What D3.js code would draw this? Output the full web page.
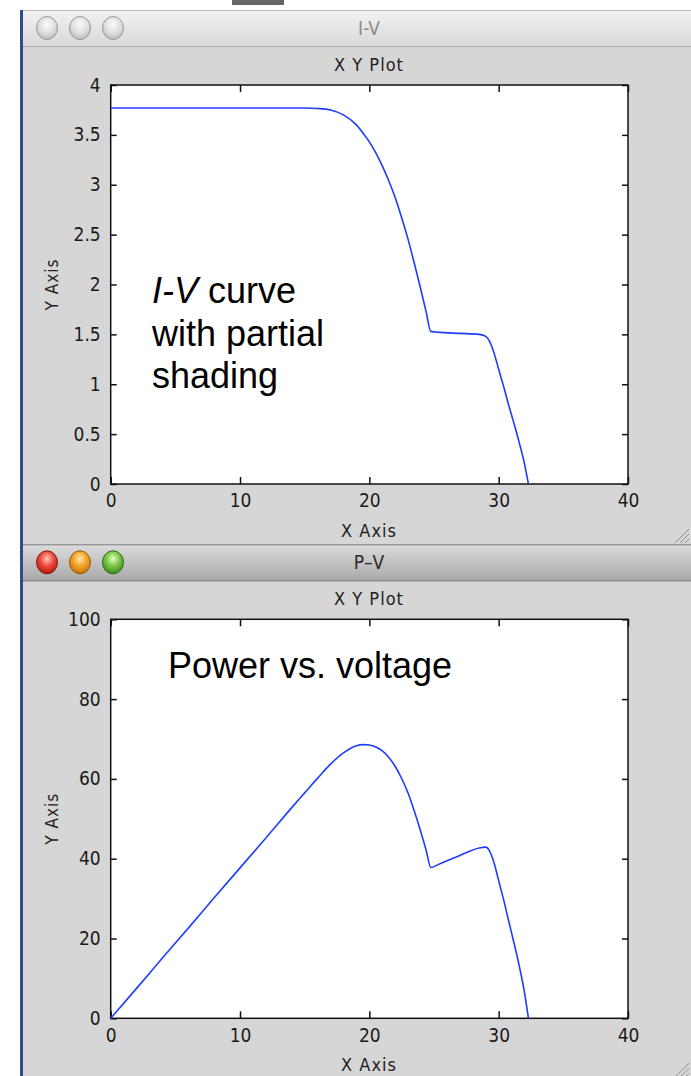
<!DOCTYPE html>
<html>
<head>
<meta charset="utf-8">
<script src="https://cdn.jsdelivr.net/npm/d3@7"></script>
<style>
  body { margin: 0; background: #fff; }
  svg { display: block; }
</style>
</head>
<body>
<script>
// page size
const width = 691, height = 1076;

// voltage samples (x) shared by both curves
const voltage = [0, 2, 4, 6, 8, 10, 12, 14, 15, 16, 17, 18, 19, 19.5, 20, 20.5, 21, 21.5, 22, 22.5,
  23, 23.5, 24, 24.4, 24.75, 25.5, 27, 28.5, 29, 29.3, 29.6, 30, 30.4, 30.8, 31.2, 31.6, 32, 32.3];
// current
const current = [3.77, 3.77, 3.77, 3.77, 3.77, 3.77, 3.77, 3.77, 3.77, 3.765, 3.75, 3.70, 3.60, 3.52, 3.43, 3.32,
  3.19, 3.04, 2.87, 2.67, 2.45, 2.20, 1.94, 1.72, 1.53, 1.52, 1.51, 1.50, 1.48, 1.43, 1.33, 1.15, 0.97, 0.78,
  0.60, 0.41, 0.20, 0];
// power
const power = [0, 7.5, 15.1, 22.6, 30.2, 37.7, 45.2, 52.8, 56.5, 60.2, 63.7, 66.5, 68.3, 68.6, 68.5, 68.0,
  67.0, 65.4, 63.1, 60.1, 56.4, 51.7, 46.5, 42.0, 37.8, 38.8, 40.8, 42.7, 42.9, 41.9, 39.4, 34.5, 29.5, 24.0,
  18.7, 13.0, 6.4, 0];

// axis ticks
const xTicks = [0, 10, 20, 30, 40];
const ivTicks = [0, 0.5, 1, 1.5, 2, 2.5, 3, 3.5, 4];
const pvTicks = [0, 20, 40, 60, 80, 100];

const svg = d3.select("body").append("svg")
  .attr("width", width)
  .attr("height", height);

const defs = svg.append("defs");

function linGrad(id, stops) {
  const g = defs.append("linearGradient").attr("id", id)
    .attr("x1", 0).attr("y1", 0).attr("x2", 0).attr("y2", 1);
  stops.forEach(s => g.append("stop").attr("offset", s[0]).attr("stop-color", s[1]));
}
function radGrad(id, stops) {
  const g = defs.append("radialGradient").attr("id", id)
    .attr("cx", "50%").attr("cy", "35%").attr("r", "65%");
  stops.forEach(s => g.append("stop").attr("offset", s[0]).attr("stop-color", s[1]));
}

linGrad("barInactive", [[0, "#f2f2f2"], [1, "#d9d9d9"]]);
linGrad("barActive", [[0, "#dcdcdc"], [1, "#a9a9a9"]]);
radGrad("btnGray", [[0, "#fbfbfb"], [0.6, "#dedede"], [1, "#b9b9b9"]]);
radGrad("btnRed", [[0, "#ffc8c0"], [0.5, "#ec4a3c"], [1, "#b01810"]]);
radGrad("btnOrange", [[0, "#ffe7b0"], [0.5, "#f2a52a"], [1, "#c0700a"]]);
radGrad("btnGreen", [[0, "#e0ffc0"], [0.5, "#7cc546"], [1, "#3a8a1a"]]);

// dark edge of the desktop behind the windows
svg.append("rect").attr("x", 20).attr("y", 10).attr("width", 3).attr("height", height - 10).attr("fill", "#2d4f86");
svg.append("rect").attr("x", 232).attr("y", 0).attr("width", 52).attr("height", 5).attr("fill", "#666");

// plot area placement (same in both windows)
const plotLeft = 110.7, plotRight = 628, plotH = 399;
const tickFont = "'DejaVu Sans Condensed', 'DejaVu Sans', sans-serif";

function drawWindow(top, title, active, yMax, yTicks, yValues, note) {
  const g = svg.append("g");

  // window body
  g.append("rect").attr("x", 23).attr("y", top).attr("width", width - 23).attr("height", height - top)
    .attr("fill", "#d6d6d6");
  // title bar
  g.append("rect").attr("x", 23).attr("y", top).attr("width", width - 23).attr("height", 36)
    .attr("fill", active ? "url(#barActive)" : "url(#barInactive)");
  g.append("line").attr("x1", 23).attr("x2", width).attr("y1", top + 0.5).attr("y2", top + 0.5)
    .attr("stroke", active ? "#7d7d7d" : "#bdbdbd");
  g.append("line").attr("x1", 23).attr("x2", width).attr("y1", top + 36.5).attr("y2", top + 36.5)
    .attr("stroke", active ? "#6e6e6e" : "#a8a8a8");

  const btnFills = active ? ["url(#btnRed)", "url(#btnOrange)", "url(#btnGreen)"]
    : ["url(#btnGray)", "url(#btnGray)", "url(#btnGray)"];
  const btnStroke = active ? ["#8a1a12", "#9a5a08", "#2e6e14"] : ["#9a9a9a", "#9a9a9a", "#9a9a9a"];
  [47, 80, 113].forEach((cx, i) => {
    g.append("ellipse").attr("cx", cx).attr("cy", top + 18).attr("rx", 10.5).attr("ry", 11.5)
      .attr("fill", btnFills[i]).attr("stroke", btnStroke[i]).attr("stroke-width", 1);
  });

  g.append("text").attr("x", 369).attr("y", top + 25)
    .attr("text-anchor", "middle")
    .style("font-family", tickFont).style("font-size", "19px")
    .attr("fill", active ? "#2a2a2a" : "#8c8c8c")
    .text(title);

  const plotTop = top + 75, plotBottom = plotTop + plotH;

  const x = d3.scaleLinear().domain([0, 40]).range([plotLeft, plotRight]);
  const y = d3.scaleLinear().domain([0, yMax]).range([plotBottom, plotTop]);

  // header and axis titles
  g.append("text").attr("x", 369).attr("y", top + 61)
    .attr("text-anchor", "middle")
    .style("font-family", tickFont).style("font-size", "18px").style("letter-spacing", "1px")
    .attr("fill", "#222").text("X Y Plot");
  g.append("text").attr("x", 369).attr("y", plotBottom + 53)
    .attr("text-anchor", "middle")
    .style("font-family", tickFont).style("font-size", "18px").style("letter-spacing", "1px")
    .attr("fill", "#222").text("X Axis");
  g.append("text")
    .attr("transform", `translate(58,${(plotTop + plotBottom) / 2}) rotate(-90)`)
    .attr("text-anchor", "middle")
    .style("font-family", tickFont).style("font-size", "17px").style("letter-spacing", "1px")
    .attr("fill", "#222").text("Y Axis");

  // white canvas
  g.append("rect").attr("x", plotLeft).attr("y", plotTop)
    .attr("width", plotRight - plotLeft).attr("height", plotH)
    .attr("fill", "#fff");

  // axes with inward ticks
  const styleAxis = sel => {
    sel.select(".domain").remove();
    sel.selectAll("line").attr("stroke", "#111").attr("stroke-width", 1.5);
    sel.selectAll("text").style("font-family", tickFont).style("font-size", "19px").attr("fill", "#1a1a1a");
  };
  g.append("g").attr("transform", `translate(0,${plotBottom})`)
    .call(d3.axisBottom(x).tickValues(xTicks).tickSizeInner(-7).tickSizeOuter(0).tickPadding(10)
      .tickFormat(d3.format("d")))
    .call(styleAxis);
  g.append("g").attr("transform", `translate(0,${plotTop})`)
    .call(d3.axisTop(x).tickValues(xTicks).tickSizeInner(-7).tickSizeOuter(0).tickFormat(""))
    .call(styleAxis);
  g.append("g").attr("transform", `translate(${plotLeft},0)`)
    .call(d3.axisLeft(y).tickValues(yTicks).tickSizeInner(-6).tickSizeOuter(0).tickPadding(10)
      .tickFormat(d => String(d)))
    .call(styleAxis);
  g.append("g").attr("transform", `translate(${plotRight},0)`)
    .call(d3.axisRight(y).tickValues(yTicks).tickSizeInner(-6).tickSizeOuter(0).tickFormat(""))
    .call(styleAxis);

  // frame
  g.append("rect").attr("x", plotLeft).attr("y", plotTop)
    .attr("width", plotRight - plotLeft).attr("height", plotH)
    .attr("fill", "none").attr("stroke", "#111").attr("stroke-width", 1.5);

  // the curve
  const line = d3.line().x((d, i) => x(voltage[i])).y(d => y(d)).curve(d3.curveMonotoneX);
  g.append("path").datum(yValues)
    .attr("d", line)
    .attr("fill", "none")
    .attr("stroke", "#1f3dff")
    .attr("stroke-width", 1.6);

  // annotation text
  note(g, plotTop);

  // resize grip
  const gx = width - 2, gy = plotBottom + 59;
  [4, 9, 14].forEach(s => {
    g.append("line").attr("x1", gx - s).attr("y1", gy).attr("x2", gx).attr("y2", gy - s)
      .attr("stroke", "#8e8e8e").attr("stroke-width", 1);
  });
}

const noteFont = "'Liberation Sans', Arial, Helvetica, sans-serif";

drawWindow(10, "I-V", false, 4, ivTicks, current, (g, plotTop) => {
  const t = g.append("text").style("font-family", noteFont).style("font-size", "36px").attr("fill", "#000");
  const l1 = t.append("tspan").attr("x", 152).attr("y", 303);
  l1.append("tspan").style("font-style", "italic").text("I-V");
  l1.append("tspan").text(" curve");
  t.append("tspan").attr("x", 152).attr("y", 346).text("with partial");
  t.append("tspan").attr("x", 152).attr("y", 388).text("shading");
});

drawWindow(544.3, "P\u2013V", true, 100, pvTicks, power, (g, plotTop) => {
  g.append("text").attr("x", 168).attr("y", 678)
    .style("font-family", noteFont).style("font-size", "36px").attr("fill", "#000")
    .text("Power vs. voltage");
});
</script>
</body>
</html>
